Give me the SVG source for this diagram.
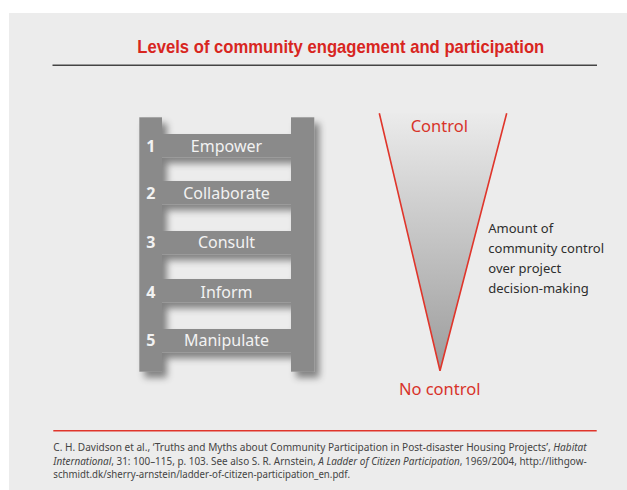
<svg xmlns="http://www.w3.org/2000/svg" width="627" height="490" viewBox="0 0 627 490">
<style>
.title{font-family:"Liberation Sans",Arial,sans-serif;font-weight:bold;font-size:18.5px;fill:#d8261f}
.lad{fill:#8a8a8a}
.num{font-family:"Noto Sans","Open Sans",sans-serif;font-weight:bold;font-size:16px;fill:#f2f2f2}
.lbl{font-family:"Noto Sans","Open Sans",sans-serif;font-size:16px;fill:#f2f2f2;text-anchor:middle}
.red{font-family:"Noto Sans","Open Sans",sans-serif;font-size:16.5px;fill:#d8332a;text-anchor:middle}
.side{font-family:"Noto Sans","Open Sans",sans-serif;font-size:13px;fill:#2e2e2e}
.foot{font-family:"Noto Sans","Open Sans",sans-serif;font-size:10px;fill:#444}
.it{font-style:italic}
</style>
<defs>
<filter id="sh" x="-20%" y="-20%" width="150%" height="150%">
<feDropShadow dx="5" dy="6" stdDeviation="3.5" flood-color="#000" flood-opacity="0.45"/>
</filter>
<linearGradient id="tg" x1="0" y1="0" x2="0" y2="1">
<stop offset="0" stop-color="#ebebeb"/>
<stop offset="1" stop-color="#9c9c9c"/>
</linearGradient>
</defs>
<rect x="0" y="0" width="627" height="490" fill="#ffffff"/>
<rect x="9" y="13" width="618" height="477" fill="#ececec"/>

<g id="title">
<text class="title" x="137.3" y="52.7" textLength="407" lengthAdjust="spacingAndGlyphs">Levels of community engagement and participation</text>
<line x1="52.5" y1="65.3" x2="597" y2="65.3" stroke="#444" stroke-width="1.6"/>
</g>

<g id="ladder-shape" filter="url(#sh)">
<rect class="lad" x="139.3" y="117.3" width="22.7" height="254.4"/>
<rect class="lad" x="291" y="117.3" width="23.3" height="254.4"/>
<rect class="lad" x="162" y="134" width="129" height="23.3"/>
<rect class="lad" x="162" y="181" width="129" height="23.3"/>
<rect class="lad" x="162" y="231" width="129" height="23.3"/>
<rect class="lad" x="162" y="279" width="129" height="23.3"/>
<rect class="lad" x="162" y="329" width="129" height="23.3"/>
</g>

<g id="level-1">
<text class="num" x="146.3" y="151.7">1</text>
<text class="lbl" x="226.5" y="151.5">Empower</text>
</g>
<g id="level-2">
<text class="num" x="146.3" y="198.5">2</text>
<text class="lbl" x="226.5" y="198.5">Collaborate</text>
</g>
<g id="level-3">
<text class="num" x="146.3" y="248">3</text>
<text class="lbl" x="226.5" y="248">Consult</text>
</g>
<g id="level-4">
<text class="num" x="146.3" y="297.5">4</text>
<text class="lbl" x="226.5" y="297.5">Inform</text>
</g>
<g id="level-5">
<text class="num" x="146.3" y="345.5">5</text>
<text class="lbl" x="226.5" y="346">Manipulate</text>
</g>

<g id="control-wedge">
<polygon points="379.3,113.3 506.7,113.3 440,370.7" fill="url(#tg)"/>
<polyline points="379.3,113.3 440,370.7 506.7,113.3" fill="none" stroke="#e0352b" stroke-width="1.6" stroke-linejoin="miter"/>
<text class="red" x="439.3" y="131.7">Control</text>
<text class="red" x="439.7" y="395">No control</text>
</g>

<g id="wedge-label">
<text class="side" x="488.3" y="233.3">Amount of</text>
<text class="side" x="488.3" y="253.3">community control</text>
<text class="side" x="488.3" y="273.3">over project</text>
<text class="side" x="488.3" y="292.7">decision-making</text>
</g>

<g id="footer">
<line x1="53.3" y1="430.7" x2="596.7" y2="430.7" stroke="#e0352b" stroke-width="1.4"/>
<text class="foot" x="53.3" y="450.7" textLength="533.4" lengthAdjust="spacingAndGlyphs">C. H. Davidson et al., ‘Truths and Myths about Community Participation in Post-disaster Housing Projects’, <tspan class="it">Habitat</tspan></text>
<text class="foot" x="53.3" y="464.5" textLength="533.4" lengthAdjust="spacingAndGlyphs"><tspan class="it">International</tspan>, 31: 100–115, p. 103. See also S. R. Arnstein, <tspan class="it">A Ladder of Citizen Participation</tspan>, 1969/2004, http://lithgow-</text>
<text class="foot" x="53.3" y="478.3" textLength="296.7" lengthAdjust="spacingAndGlyphs">schmidt.dk/sherry-arnstein/ladder-of-citizen-participation_en.pdf.</text>
</g>
</svg>
